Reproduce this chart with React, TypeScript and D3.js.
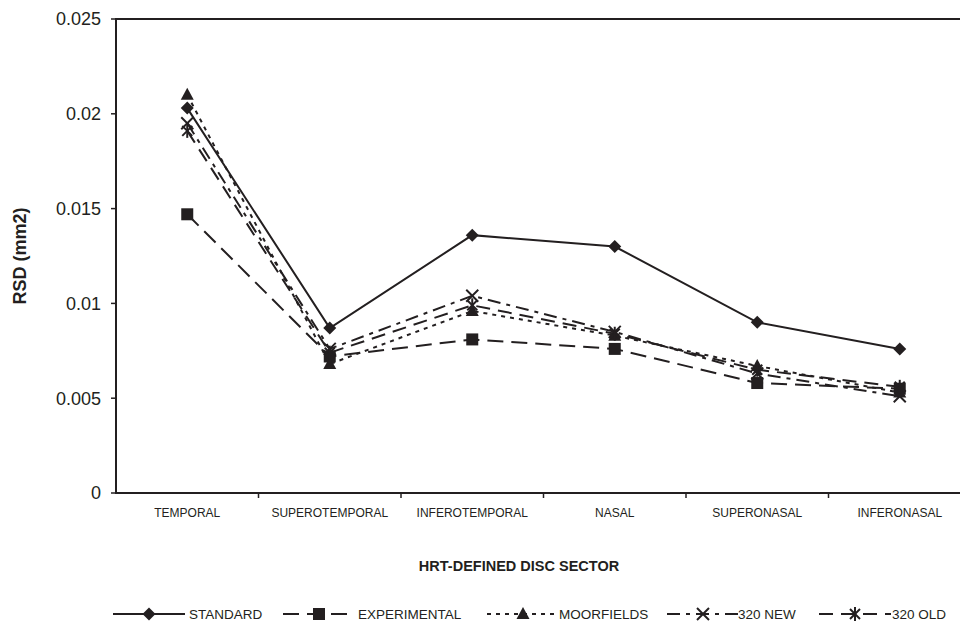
import React from "react";
import * as d3 from "d3";

const categories = ["TEMPORAL", "SUPEROTEMPORAL", "INFEROTEMPORAL", "NASAL", "SUPERONASAL", "INFERONASAL"];
const standard = [0.0203, 0.0087, 0.0136, 0.0130, 0.0090, 0.0076];
const experimental = [0.0147, 0.0072, 0.0081, 0.0076, 0.0058, 0.0055];
const moorfields = [0.0210, 0.0068, 0.0096, 0.0083, 0.0067, 0.0053];
const new320 = [0.0195, 0.0076, 0.0104, 0.0085, 0.0063, 0.0051];
const old320 = [0.0191, 0.0074, 0.0099, 0.0084, 0.0065, 0.0056];
const yTicks = [0, 0.005, 0.01, 0.015, 0.02, 0.025];
const yTickLabels = ["0", "0.005", "0.01", "0.015", "0.02", "0.025"];

const seriesNames = ["STANDARD", "EXPERIMENTAL", "MOORFIELDS", "320 NEW", "320 OLD"];
const seriesValues = [standard, experimental, moorfields, new320, old320];
const dashes = ["none", "16,8", "4,5", "13,6,4,6", "14,8"];
const markers = ["diamond", "square", "triangle", "x", "asterisk"];

const INK = "#231f20";
const W = 960, H = 623;
const left = 116, top = 19, bottom = 493, right = 971;

function Marker({ type, x, y }: { type: string; x: number; y: number }) {
  const s = 6.5;
  if (type === "diamond")
    return <path d={`M${x},${y - s}L${x + s},${y}L${x},${y + s}L${x - s},${y}Z`} fill={INK} />;
  if (type === "square")
    return <rect x={x - 6} y={y - 6} width={12} height={12} fill={INK} />;
  if (type === "triangle")
    return <path d={`M${x},${y - 7}L${x + 6.5},${y + 5}L${x - 6.5},${y + 5}Z`} fill={INK} />;
  if (type === "x")
    return (
      <g stroke={INK} strokeWidth={2}>
        <line x1={x - 6} y1={y - 6} x2={x + 6} y2={y + 6} />
        <line x1={x - 6} y1={y + 6} x2={x + 6} y2={y - 6} />
      </g>
    );
  return (
    <g stroke={INK} strokeWidth={2}>
      <line x1={x - 5} y1={y - 5} x2={x + 5} y2={y + 5} />
      <line x1={x - 5} y1={y + 5} x2={x + 5} y2={y - 5} />
      <line x1={x} y1={y - 7} x2={x} y2={y + 7} />
    </g>
  );
}

export default function App() {
  const x = d3.scaleBand<string>().domain(categories).range([left, right]);
  const y = d3.scaleLinear().domain([0, 0.025]).range([bottom, top]);
  const cx = (c: string) => (x(c) as number) + x.bandwidth() / 2;
  const line = d3
    .line<number>()
    .x((_, i) => cx(categories[i]))
    .y((d) => y(d));

  const legendItems = [
    { sample: 113, text: 189 },
    { sample: 283, text: 358 },
    { sample: 487, text: 559 },
    { sample: 667, text: 738 },
    { sample: 819, text: 892 },
  ];
  const ly = 614;

  return (
    <svg width={W} height={H} style={{ position: "absolute", left: 0, top: 0, fontFamily: "Liberation Sans, Arial, sans-serif" }}>
      <rect width={W} height={H} fill="#fff" />
      <line x1={left} y1={top} x2={W} y2={top} stroke={INK} strokeWidth={2} />
      <line x1={left} y1={top - 1} x2={left} y2={bottom + 1} stroke={INK} strokeWidth={2} />
      <line x1={left - 1} y1={bottom} x2={W} y2={bottom} stroke={INK} strokeWidth={2} />
      {yTicks.map((t, i) => (
        <g key={t}>
          <line x1={left - 5} x2={left} y1={y(t)} y2={y(t)} stroke={INK} strokeWidth={1.5} />
          <text x={101} y={y(t)} dy="0.36em" textAnchor="end" fontSize={18} fill={INK}>
            {yTickLabels[i]}
          </text>
        </g>
      ))}
      {categories.map((c, i) => (
        <g key={c}>
          {i > 0 && <line x1={x(c)} x2={x(c)} y1={bottom} y2={bottom + 5} stroke={INK} strokeWidth={1.5} />}
          <text x={cx(c)} y={517} textAnchor="middle" fontSize={12} fill={INK}>
            {c}
          </text>
        </g>
      ))}
      <text x={519} y={571} textAnchor="middle" fontSize={14.5} fontWeight="bold" fill={INK}>
        HRT-DEFINED DISC SECTOR
      </text>
      <text transform={`translate(26,${(top + bottom) / 2}) rotate(-90)`} textAnchor="middle" fontSize={18} fontWeight="bold" fill={INK}>
        RSD (mm2)
      </text>
      {seriesValues.map((vals, si) => (
        <g key={seriesNames[si]}>
          <path d={line(vals) as string} fill="none" stroke={INK} strokeWidth={2} strokeDasharray={dashes[si]} />
          {vals.map((v, i) => (
            <Marker key={i} type={markers[si]} x={cx(categories[i])} y={y(v)} />
          ))}
        </g>
      ))}
      {seriesNames.map((n, si) => {
        const it = legendItems[si];
        return (
          <g key={n}>
            <line x1={it.sample} x2={it.sample + 72} y1={ly} y2={ly} stroke={INK} strokeWidth={2} strokeDasharray={dashes[si]} />
            <Marker type={markers[si]} x={it.sample + 36} y={ly} />
            <text x={it.text} y={ly} dy="0.36em" fontSize={13.5} fill={INK}>
              {n}
            </text>
          </g>
        );
      })}
    </svg>
  );
}
